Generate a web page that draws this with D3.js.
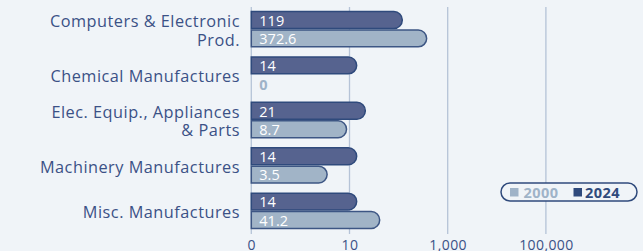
<!DOCTYPE html>
<html>
<head>
<meta charset="utf-8">
<script src="https://cdn.jsdelivr.net/npm/d3@7"></script>
<style>
  html, body { margin: 0; padding: 0; background: #f0f4f8; }
  svg { display: block; }
  text { font-family: "Open Sans", "Lato", sans-serif; }
</style>
</head>
<body>
<svg id="chart" width="643" height="251"></svg>
<script>
// ---- data ----
const categories = [
  "Computers & Electronic Prod.",
  "Chemical Manufactures",
  "Elec. Equip., Appliances & Parts",
  "Machinery Manufactures",
  "Misc. Manufactures"
];
const categoryLines = [
  ["Computers & Electronic", "Prod."],
  ["Chemical Manufactures"],
  ["Elec. Equip., Appliances", "& Parts"],
  ["Machinery Manufactures"],
  ["Misc. Manufactures"]
];
const series = ["2024", "2000"];
const values2024 = [119, 14, 21, 14, 14];
const values2000 = [372.6, 0, 8.7, 3.5, 41.2];
const tickValues = [0, 10, 1000, 100000];
const tickLabels = ["0", "10", "1,000", "100,000"];

// ---- styles ----
const colors = {
  "2024": { fill: "#56638f", stroke: "#2f4a7c", legend: "#2f4a7c" },
  "2000": { fill: "#a1b4c7", stroke: "#3d5684", legend: "#9fb3c8" }
};
const textColor = "#3b5186";
const gridColor = "#b5c3d7";
const fontFam = '"Open Sans", "Lato", sans-serif';

const svg = d3.select("#chart");
const x0 = 251.3, decade = 49.1;
const minVal = 0.1;
const x = d3.scaleLog().domain([minVal, 100000]).range([x0, x0 + 6 * decade]);
const xv = v => x(Math.max(v, minVal));

const y = d3.scaleBand().domain(categories).range([6.5, 233.5])
  .paddingInner(0.19).paddingOuter(0.095);
const ys = d3.scaleBand().domain(series).range([0, y.bandwidth()]);

// gridlines
svg.append("g").selectAll("line").data(tickValues).join("line")
  .attr("x1", d => xv(d)).attr("x2", d => xv(d))
  .attr("y1", 7).attr("y2", 234)
  .attr("stroke", gridColor).attr("stroke-width", 1.3);

// axis labels
const axis = d3.axisBottom(x)
  .tickValues(tickValues.map(v => Math.max(v, minVal)))
  .tickFormat((d, i) => tickLabels[i])
  .tickSize(0).tickPadding(0);
const ag = svg.append("g").attr("transform", "translate(0,250)").call(axis);
ag.select(".domain").remove();
ag.selectAll("text").attr("fill", textColor).attr("font-size", 14)
  .attr("dy", null).attr("y", 0)
  .attr("letter-spacing", 0.4)
  .style("font-family", fontFam);

// bars
const data = [];
categories.forEach((c, i) => {
  data.push({ cat: c, s: "2024", v: values2024[i] });
  data.push({ cat: c, s: "2000", v: values2000[i] });
});

function barPath(d) {
  const top = y(d.cat) + ys(d.s) + 0.75;
  const h = ys.bandwidth() - 1.5;
  const left = x0;
  const right = xv(d.v);
  const w = right - left;
  if (w <= 0) return "";
  const r = Math.min(h / 2, w);
  return `M${left},${top} H${right - r} A${r},${r} 0 0 1 ${right},${top + r}` +
         ` V${top + h - r} A${r},${r} 0 0 1 ${right - r},${top + h} H${left} Z`;
}

const bars = svg.append("g");
bars.selectAll("path").data(data).join("path")
  .attr("d", barPath)
  .attr("fill", d => colors[d.s].fill)
  .attr("stroke", d => colors[d.s].stroke)
  .attr("stroke-width", 1.5);

bars.selectAll("text").data(data).join("text")
  .attr("x", x0 + 8)
  .attr("y", d => y(d.cat) + ys(d.s) + ys.bandwidth() / 2)
  .attr("dy", "0.4em")
  .attr("font-size", 14.5)
  .attr("font-weight", d => d.v > 0 ? "normal" : "bold")
  .attr("fill", d => d.v > 0 ? "#ffffff" : colors["2000"].legend)
  .text(d => d.v);

// category labels (one text element per line)
const cl = svg.append("g");
categories.forEach((c, i) => {
  const lines = categoryLines[i];
  const cy = y(c) + y.bandwidth() / 2;
  const lh = 18.3;
  lines.forEach((ln, j) => {
    cl.append("text")
      .attr("text-anchor", "end")
      .attr("fill", textColor)
      .attr("font-size", 16.3)
      .attr("letter-spacing", 0.5)
      .attr("x", 240)
      .attr("y", cy + (j - (lines.length - 1) / 2) * lh)
      .attr("dy", "0.45em")
      .text(ln);
  });
});

// legend
const lg = svg.append("g");
lg.append("rect").attr("x", 501).attr("y", 183).attr("width", 136).attr("height", 18)
  .attr("rx", 9).attr("fill", "#f0f4f8").attr("stroke", "#2f4a7c").attr("stroke-width", 1.5);
const legendItems = [
  { s: "2000", sx: 510, tx: 523.5 },
  { s: "2024", sx: 573.5, tx: 585 }
];
legendItems.forEach(it => {
  lg.append("rect").attr("x", it.sx).attr("y", 188).attr("width", 8.5).attr("height", 8.5)
    .attr("fill", colors[it.s].legend);
  lg.append("text").attr("x", it.tx).attr("y", 192).attr("dy", "0.38em")
    .attr("font-size", 14.5).attr("font-weight", "bold").attr("letter-spacing", 0.5)
    .attr("fill", colors[it.s].legend).text(it.s);
});
</script>
</body>
</html>
